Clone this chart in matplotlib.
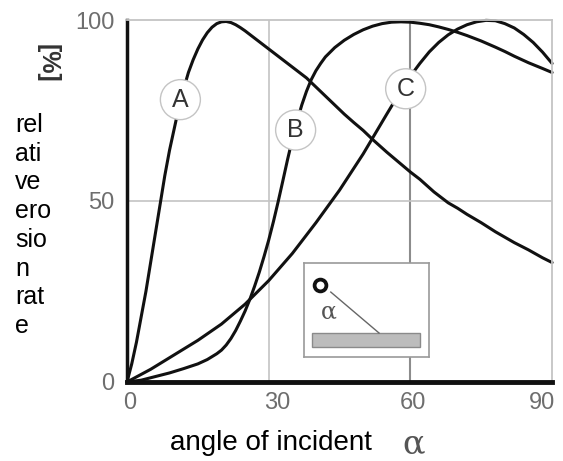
import matplotlib
matplotlib.use('Agg')
import matplotlib.pyplot as plt
import matplotlib.transforms as mtransforms
from matplotlib.patches import Rectangle

plt.rcParams['font.family'] = ['Liberation Sans', 'DejaVu Sans']

# curve readings (angle in degrees, relative erosion rate in %)
angle_a = [0, 1, 2, 3, 4, 5, 6, 7, 8, 9, 10, 11, 12, 13, 14, 15, 16, 17, 18,
           19, 20, 21, 22, 23, 24, 25, 26, 28, 30, 32, 34, 36, 38, 40, 42, 44,
           46, 48, 50, 52, 55, 58, 60, 62, 65, 68, 70, 72, 75, 78, 80, 82, 85,
           88, 90]
rate_a = [0, 5, 11, 18, 25, 33, 41, 49, 57, 64, 70, 76, 81, 85.5, 89, 92, 94.5,
          96.5, 98, 99, 99.5, 99.6, 99.3, 98.7, 97.9, 97, 96, 94, 92, 90, 88,
          86, 84, 81.5, 79, 76.5, 74, 71.7, 69.5, 67, 63.5, 60.2, 58, 56, 52.5,
          49.5, 48, 46.3, 44, 41.5, 40, 38.5, 36.5, 34.3, 33]

angle_b = [0, 3, 6, 9, 12, 15, 17, 19, 20, 21, 22, 23, 24, 25, 26, 27, 28, 29,
           30, 31, 32, 33, 34, 35, 36, 37, 38, 39, 40, 41, 42, 44, 46, 48, 50,
           52, 54, 56, 58, 60, 62, 64, 66, 68, 70, 72, 75, 78, 80, 82, 85, 88, 90]
rate_b = [0, 0.5, 1.5, 2.5, 3.7, 5, 6.2, 7.8, 8.8, 10.2, 12, 14.2, 16.8, 19.6,
          22.8, 26.4, 30.3, 34.6, 39.2, 44.3, 49.8, 55.6, 61.5, 67, 72, 76.5,
          80.3, 83.5, 86, 88, 89.8, 92.4, 94.4, 96, 97.3, 98.3, 99, 99.4, 99.5,
          99.4, 99.1, 98.7, 98.1, 97.4, 96.6, 95.7, 94.2, 92.5, 91.3, 90, 88.2,
          86.6, 85.5]

angle_c = [0, 5, 10, 15, 20, 25, 30, 35, 40, 45, 50, 55, 58, 60, 62, 64, 66,
           68, 70, 72, 74, 76, 78, 80, 82, 84, 86, 88, 90]
rate_c = [0, 3.5, 7.5, 11.5, 16, 21.5, 28, 35.5, 44, 53, 63, 74, 80.5, 84.5,
          88, 91.2, 93.8, 95.9, 97.5, 98.7, 99.5, 99.9, 99.8, 99, 97.8, 96,
          93.8, 91.1, 88]

curve_names = ['A', 'B', 'C']
label_angle = [11.3, 35.7, 59]
label_rate = [78, 69.6, 81]

x_ticks = [0, 30, 60, 90]
y_ticks = [0, 50, 100]

fig = plt.figure(figsize=(5.63, 4.61), dpi=100)
ax = fig.add_axes([0.2256, 0.1714, 0.755, 0.7852])
ax.set_xlim(0, 90)
ax.set_ylim(0, 100)

# grid lines
ax.axvline(30, color='#c4c4c4', lw=1.2, zorder=1)
ax.axvline(60, color='#8c8c8c', lw=1.5, zorder=1)
ax.axhline(50, color='#c4c4c4', lw=1.2, zorder=1)

for xs, ys in [(angle_a, rate_a), (angle_b, rate_b), (angle_c, rate_c)]:
    ax.plot(xs, ys, color='#111111', lw=2.2, solid_capstyle='round',
            solid_joinstyle='round', zorder=3, clip_on=False)

for name, lx, ly in zip(curve_names, label_angle, label_rate):
    ax.text(lx, ly, name, fontsize=18, color='#333333', ha='center', va='center',
            zorder=5,
            bbox=dict(boxstyle='circle,pad=0.32', fc='white', ec='#c4c4c4', lw=1))

# small sketch of the impact angle
ins = ax.inset_axes([37.4, 6.9, 26.6, 26.0], transform=ax.transData, zorder=4)
ins.set_xlim(0, 1)
ins.set_ylim(0, 1)
ins.set_xticks([])
ins.set_yticks([])
for s in ins.spines.values():
    s.set_color('#9a9a9a')
    s.set_linewidth(1.2)
ins.add_patch(Rectangle((0.064, 0.106), 0.864, 0.149, fc='#bcbcbc', ec='#8a8a8a', lw=1))
ins.plot([0.216, 0.6], [0.69, 0.255], color='#666666', lw=1)
ins.plot([0.128], [0.766], marker='o', ms=8.5, mfc='white', mec='#111111', mew=2.7)
ins.text(0.2, 0.48, '\u03b1', fontsize=17, color='#555555', family='DejaVu Serif',
         ha='center', va='center')

for side in ['top', 'right']:
    ax.spines[side].set_color('#c4c4c4')
    ax.spines[side].set_linewidth(1.3)
ax.spines['left'].set_color('#111111')
ax.spines['left'].set_linewidth(2.5)
ax.spines['bottom'].set_color('#111111')
ax.spines['bottom'].set_linewidth(3.5)
for s in ax.spines.values():
    s.set_zorder(6)

ax.set_xticks(x_ticks)
ax.set_yticks(y_ticks)
ax.tick_params(length=0, labelsize=17, labelcolor='#6e6e6e')
ax.tick_params(axis='y', pad=9)
ax.tick_params(axis='x', pad=7)

# nudge the x tick labels the way the original sits
x_shift = [3, 9, 3, -10]
for lab, dx in zip(ax.get_xticklabels(), x_shift):
    lab.set_transform(lab.get_transform() +
                      mtransforms.ScaledTranslation(dx / 100, 0, fig.dpi_scale_trans))

fig.text(0.027, 0.755, 'rel\nati\nve\nero\nsio\nn\nrat\ne', fontsize=18,
         ha='left', va='top', linespacing=1.25, color='black')
fig.text(0.085, 0.862, '[%]', fontsize=18, rotation=-90, ha='center',
         va='center', color='#333333', fontweight='bold')
fig.text(0.481, 0.039, 'angle of incident', fontsize=20, ha='center',
         va='center', color='black')
fig.text(0.735, 0.036, '\u03b1', fontsize=24, family='DejaVu Serif',
         ha='center', va='center', color='#555555')

fig.savefig('out.png', dpi=100)
